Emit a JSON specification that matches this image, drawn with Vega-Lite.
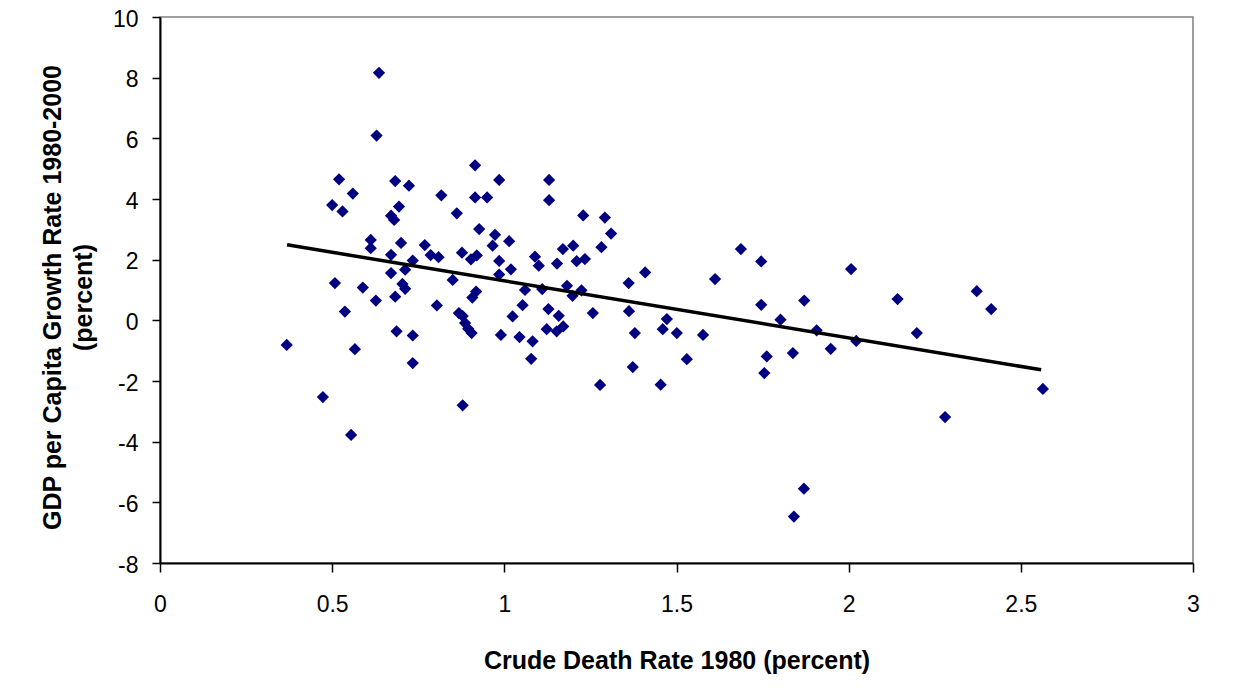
{
  "$schema": "https://vega.github.io/schema/vega-lite/v6.json",
  "width": 1033,
  "height": 546,
  "autosize": {"type": "none"},
  "padding": {"left": 160, "top": 17, "right": 40, "bottom": 129},
  "background": "white",
  "config": {
    "view": {"stroke": "#808080", "strokeWidth": 1.5},
    "axis": {
      "grid": false,
      "domainColor": "black",
      "domainWidth": 2,
      "tickColor": "black",
      "tickWidth": 1.5,
      "labelColor": "black",
      "titleColor": "black",
      "labelFont": "Liberation Sans",
      "titleFont": "Liberation Sans",
      "labelFontSize": 23,
      "titleFontSize": 25,
      "titleFontWeight": "bold",
      "labelFlush": false,
      "labelOverlap": false
    }
  },
  "layer": [
    {
      "data": {
        "values": [
          {"cdr": 0.368, "growth": -0.81}, {"cdr": 0.473, "growth": -2.53}, {"cdr": 0.5, "growth": 3.8},
          {"cdr": 0.508, "growth": 1.23}, {"cdr": 0.52, "growth": 4.65}, {"cdr": 0.53, "growth": 3.59},
          {"cdr": 0.537, "growth": 0.29}, {"cdr": 0.555, "growth": -3.78}, {"cdr": 0.56, "growth": 4.18},
          {"cdr": 0.566, "growth": -0.95}, {"cdr": 0.589, "growth": 1.08}, {"cdr": 0.612, "growth": 2.65},
          {"cdr": 0.612, "growth": 2.38}, {"cdr": 0.627, "growth": 0.65}, {"cdr": 0.629, "growth": 6.09},
          {"cdr": 0.636, "growth": 8.16}, {"cdr": 0.671, "growth": 3.45}, {"cdr": 0.68, "growth": 3.31},
          {"cdr": 0.671, "growth": 2.16}, {"cdr": 0.671, "growth": 1.56}, {"cdr": 0.683, "growth": 4.59},
          {"cdr": 0.683, "growth": 0.78}, {"cdr": 0.687, "growth": -0.36}, {"cdr": 0.694, "growth": 3.75},
          {"cdr": 0.7, "growth": 2.55}, {"cdr": 0.704, "growth": 1.2}, {"cdr": 0.712, "growth": 1.67},
          {"cdr": 0.712, "growth": 1.04}, {"cdr": 0.723, "growth": 4.44}, {"cdr": 0.734, "growth": 1.97},
          {"cdr": 0.734, "growth": -0.5}, {"cdr": 0.734, "growth": -1.41}, {"cdr": 0.769, "growth": 2.48},
          {"cdr": 0.786, "growth": 2.15}, {"cdr": 0.804, "growth": 0.49}, {"cdr": 0.809, "growth": 2.08},
          {"cdr": 0.817, "growth": 4.12}, {"cdr": 0.85, "growth": 1.33}, {"cdr": 0.862, "growth": 3.53},
          {"cdr": 0.868, "growth": 0.24}, {"cdr": 0.879, "growth": 0.14}, {"cdr": 0.877, "growth": 2.23},
          {"cdr": 0.879, "growth": -2.8}, {"cdr": 0.886, "growth": -0.09}, {"cdr": 0.895, "growth": -0.28},
          {"cdr": 0.905, "growth": -0.42}, {"cdr": 0.903, "growth": 2.01}, {"cdr": 0.907, "growth": 0.75},
          {"cdr": 0.915, "growth": 5.11}, {"cdr": 0.915, "growth": 4.05}, {"cdr": 0.918, "growth": 0.95},
          {"cdr": 0.92, "growth": 2.14}, {"cdr": 0.927, "growth": 3.01}, {"cdr": 0.95, "growth": 4.05},
          {"cdr": 0.966, "growth": 2.46}, {"cdr": 0.973, "growth": 2.82}, {"cdr": 0.985, "growth": 4.63},
          {"cdr": 0.985, "growth": 1.96}, {"cdr": 0.985, "growth": 1.51}, {"cdr": 0.99, "growth": -0.48},
          {"cdr": 1.014, "growth": 2.61}, {"cdr": 1.019, "growth": 1.68}, {"cdr": 1.024, "growth": 0.13},
          {"cdr": 1.044, "growth": -0.55}, {"cdr": 1.053, "growth": 0.5}, {"cdr": 1.06, "growth": 1.0},
          {"cdr": 1.078, "growth": -1.27}, {"cdr": 1.082, "growth": -0.69}, {"cdr": 1.089, "growth": 2.1},
          {"cdr": 1.1, "growth": 1.8}, {"cdr": 1.11, "growth": 1.03}, {"cdr": 1.123, "growth": -0.29},
          {"cdr": 1.128, "growth": 0.37}, {"cdr": 1.13, "growth": 4.63}, {"cdr": 1.13, "growth": 3.96},
          {"cdr": 1.152, "growth": -0.36}, {"cdr": 1.153, "growth": 1.87}, {"cdr": 1.158, "growth": 0.15},
          {"cdr": 1.171, "growth": -0.2}, {"cdr": 1.17, "growth": 2.35}, {"cdr": 1.182, "growth": 1.14},
          {"cdr": 1.198, "growth": 0.81}, {"cdr": 1.2, "growth": 2.46}, {"cdr": 1.21, "growth": 1.95},
          {"cdr": 1.224, "growth": 0.99}, {"cdr": 1.229, "growth": 3.46}, {"cdr": 1.234, "growth": 2.02},
          {"cdr": 1.257, "growth": 0.24}, {"cdr": 1.278, "growth": -2.13}, {"cdr": 1.282, "growth": 2.41},
          {"cdr": 1.292, "growth": 3.39}, {"cdr": 1.31, "growth": 2.86}, {"cdr": 1.361, "growth": 1.23},
          {"cdr": 1.362, "growth": 0.3}, {"cdr": 1.373, "growth": -1.54}, {"cdr": 1.379, "growth": -0.42},
          {"cdr": 1.409, "growth": 1.58}, {"cdr": 1.454, "growth": -2.12}, {"cdr": 1.46, "growth": -0.29},
          {"cdr": 1.472, "growth": 0.04}, {"cdr": 1.501, "growth": -0.42}, {"cdr": 1.53, "growth": -1.28},
          {"cdr": 1.577, "growth": -0.48}, {"cdr": 1.612, "growth": 1.36}, {"cdr": 1.687, "growth": 2.35},
          {"cdr": 1.746, "growth": 1.94}, {"cdr": 1.746, "growth": 0.51}, {"cdr": 1.755, "growth": -1.74},
          {"cdr": 1.762, "growth": -1.19}, {"cdr": 1.802, "growth": 0.02}, {"cdr": 1.838, "growth": -1.08},
          {"cdr": 1.841, "growth": -6.47}, {"cdr": 1.871, "growth": 0.65}, {"cdr": 1.87, "growth": -5.55},
          {"cdr": 1.907, "growth": -0.33}, {"cdr": 1.948, "growth": -0.94}, {"cdr": 2.007, "growth": 1.69},
          {"cdr": 2.022, "growth": -0.68}, {"cdr": 2.142, "growth": 0.7}, {"cdr": 2.198, "growth": -0.42},
          {"cdr": 2.28, "growth": -3.19}, {"cdr": 2.372, "growth": 0.96}, {"cdr": 2.414, "growth": 0.37},
          {"cdr": 2.564, "growth": -2.26}
        ]
      },
      "mark": {"type": "point", "shape": "diamond", "filled": true, "size": 150, "color": "#000080", "opacity": 1, "strokeWidth": 0},
      "encoding": {
        "x": {
          "field": "cdr", "type": "quantitative",
          "scale": {"domain": [0, 3], "nice": false, "zero": false},
          "axis": {
            "title": "Crude Death Rate 1980 (percent)",
            "values": [0, 0.5, 1, 1.5, 2, 2.5, 3],
            "labelExpr": "toString(datum.value)",
            "tickSize": 9,
            "labelPadding": 21,
            "titleY": 97,
            "titleBaseline": "middle"
          }
        },
        "y": {
          "field": "growth", "type": "quantitative",
          "scale": {"domain": [-8, 10], "nice": false, "zero": false},
          "axis": {
            "title": ["GDP per Capita Growth Rate 1980-2000", "(percent)"],
            "values": [-8, -6, -4, -2, 0, 2, 4, 6, 8, 10],
            "labelExpr": "toString(datum.value)",
            "tickSize": 8,
            "labelPadding": 14,
            "labelOffset": 2,
            "titleAngle": -90,
            "titleAlign": "center",
            "titleBaseline": "middle",
            "titleLineHeight": 31,
            "titleX": -108,
            "titleY": 280
          }
        }
      }
    },
    {
      "data": {"values": [{"cdr": 0.369, "growth": 2.49}, {"cdr": 2.559, "growth": -1.63}]},
      "mark": {"type": "line", "color": "black", "strokeWidth": 3.5},
      "encoding": {
        "x": {"field": "cdr", "type": "quantitative"},
        "y": {"field": "growth", "type": "quantitative"}
      }
    }
  ]
}
